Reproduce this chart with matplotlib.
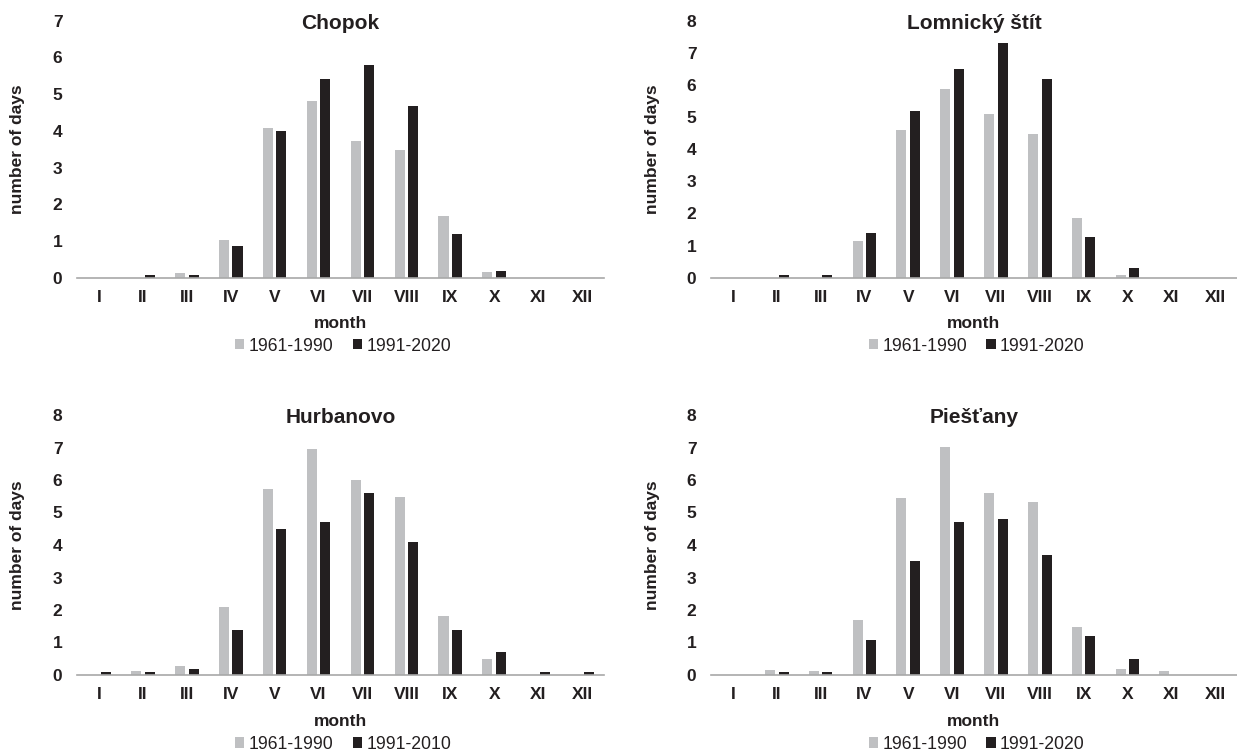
import matplotlib
matplotlib.use("Agg")
import matplotlib.pyplot as plt
from matplotlib.patches import Patch
import numpy as np

months = ['I', 'II', 'III', 'IV', 'V', 'VI', 'VII', 'VIII', 'IX', 'X', 'XI', 'XII']

chopok_1961_1990 = [0, 0, 0.13, 1.03, 4.09, 4.82, 3.72, 3.49, 1.67, 0.15, 0, 0]
chopok_1991_2020 = [0, 0.07, 0.07, 0.87, 4.0, 5.4, 5.78, 4.69, 1.19, 0.17, 0, 0]

lomnicky_1961_1990 = [0, 0, 0, 1.14, 4.6, 5.86, 5.11, 4.46, 1.86, 0.08, 0, 0]
lomnicky_1991_2020 = [0, 0.08, 0.08, 1.38, 5.18, 6.5, 7.3, 6.19, 1.28, 0.29, 0, 0]

hurbanovo_1961_1990 = [0, 0.12, 0.27, 2.09, 5.73, 6.96, 5.99, 5.49, 1.82, 0.48, 0, 0]
hurbanovo_1991_2010 = [0.09, 0.09, 0.18, 1.38, 4.5, 4.7, 5.59, 4.09, 1.38, 0.70, 0.09, 0.09]

piestany_1961_1990 = [0, 0.15, 0.12, 1.69, 5.44, 7.02, 5.59, 5.32, 1.49, 0.18, 0.12, 0]
piestany_1991_2020 = [0, 0.09, 0.09, 1.09, 3.5, 4.7, 4.8, 3.68, 1.19, 0.48, 0, 0]

panels = [
    ("Chopok", chopok_1961_1990, chopok_1991_2020, "1961-1990", "1991-2020", 7),
    ("Lomnický štít", lomnicky_1961_1990, lomnicky_1991_2020, "1961-1990", "1991-2020", 8),
    ("Hurbanovo", hurbanovo_1961_1990, hurbanovo_1991_2010, "1961-1990", "1991-2010", 8),
    ("Piešťany", piestany_1961_1990, piestany_1991_2020, "1961-1990", "1991-2020", 8),
]

plt.rcParams['font.family'] = ['Liberation Sans', 'DejaVu Sans']

W, H = 1237, 754
GRAY = '#BFC0C2'
BLACK = '#231F20'
AXIS = '#A8A8A8'
TXT = '#231F20'

rects = [
    (77, 20.7, 604, 277.7),
    (711, 20.7, 1237, 277.7),
    (77, 415, 604, 675),
    (711, 415, 1237, 675),
]

fig = plt.figure(figsize=(W / 100, H / 100), dpi=100)

x = np.arange(len(months))
bw = 0.23
off = 0.155

for (title, a, b, la, lb, ymax), (l, t, r, btm) in zip(panels, rects):
    ax = fig.add_axes([l / W, (H - btm) / H, (r - l) / W, (btm - t) / H])
    ax.bar(x - off, a, width=bw, color=GRAY, zorder=2)
    ax.bar(x + off, b, width=bw, color=BLACK, zorder=2)
    ax.set_xlim(-0.5, 11.5)
    ax.set_ylim(0, ymax)
    ax.set_yticks(range(0, ymax + 1))
    ax.set_xticks(x)
    ax.set_xticklabels(months)
    for s in ['top', 'right', 'left']:
        ax.spines[s].set_visible(False)
    ax.spines['bottom'].set_color(AXIS)
    ax.spines['bottom'].set_linewidth(1.2)
    ax.spines['bottom'].set_zorder(3)
    ax.tick_params(axis='both', length=0, labelsize=12.5, colors=TXT)
    ax.tick_params(axis='y', pad=10.5)
    ax.tick_params(axis='x', pad=8.8)
    for lab in ax.get_xticklabels() + ax.get_yticklabels():
        lab.set_fontweight('bold')
    ax.set_ylabel('number of days', fontsize=12.5, fontweight='bold', color=TXT)
    ax.yaxis.label.set_va('center')
    ax.yaxis.set_label_coords(-0.112, 0.5)
    ax.set_xlabel('month', fontsize=12.5, fontweight='bold', color=TXT)
    ax.xaxis.label.set_va('center')
    ax.xaxis.set_label_coords(0.5, -0.177)
    ax.text(0.5, 0.99, title, transform=ax.transAxes, ha='center', va='center',
            fontsize=15, fontweight='bold', color=TXT)
    handles = [Patch(facecolor=GRAY, edgecolor='none', label=la),
               Patch(facecolor=BLACK, edgecolor='none', label=lb)]
    ax.legend(handles=handles, loc='center', bbox_to_anchor=(0.505, -0.266), ncol=2,
              frameon=False, fontsize=12.7, handlelength=0.52, handleheight=0.52,
              handletextpad=0.25, columnspacing=1.1, borderaxespad=0, borderpad=0,
              labelcolor=TXT)

fig.savefig('out.png', dpi=100)
